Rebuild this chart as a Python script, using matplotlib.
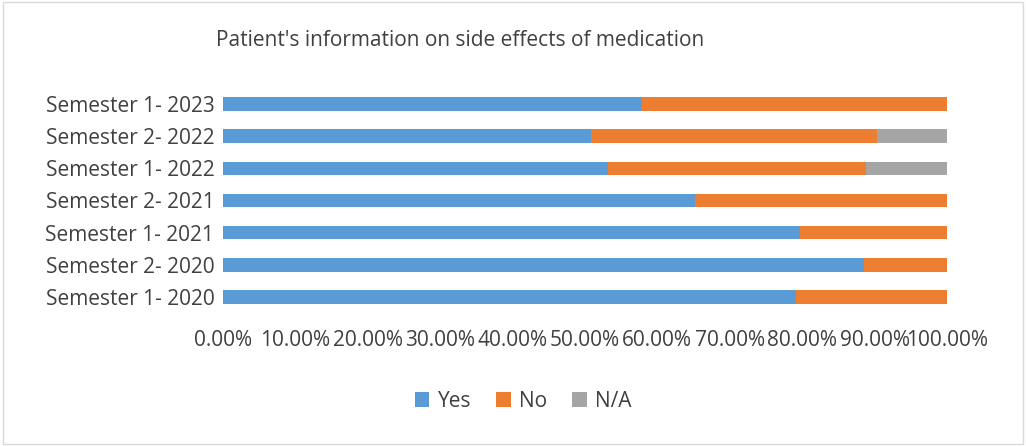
import matplotlib
matplotlib.use("Agg")
import matplotlib.pyplot as plt
import numpy as np

categories = ["Semester 1- 2020", "Semester 2- 2020", "Semester 1- 2021", "Semester 2- 2021",
              "Semester 1- 2022", "Semester 2- 2022", "Semester 1- 2023"]
yes = [79.1, 88.5, 79.7, 65.2, 53.2, 50.8, 57.9]
no = [20.9, 11.5, 20.3, 34.8, 35.6, 39.5, 42.1]
na = [0, 0, 0, 0, 11.2, 9.7, 0]
ticks = [0, 10, 20, 30, 40, 50, 60, 70, 80, 90, 100]
tick_labels = ["%.2f%%" % t for t in ticks]

plt.rcParams['font.family'] = ['Open Sans', 'DejaVu Sans']
fig = plt.figure(figsize=(10.26, 4.46), dpi=100)
ax = fig.add_axes([0.217, 0.298, 0.706, 0.505])
y = np.arange(len(categories))
h = 0.42
ax.barh(y, yes, height=h, color="#5B9BD5", label="Yes")
ax.barh(y, no, left=yes, height=h, color="#ED7D31", label="No")
ax.barh(y, na, left=np.array(yes) + np.array(no), height=h, color="#A5A5A5", label="N/A")
ax.set_xlim(0, 100)
ax.set_ylim(-0.5, len(categories) - 0.5)
ax.set_yticks(y)
ax.set_yticklabels(categories, fontsize=15, color="#404040")
ax.set_xticks(ticks)
ax.set_xticklabels(tick_labels, fontsize=15, color="#404040")
for s in ax.spines.values():
    s.set_visible(False)
ax.tick_params(length=0)
ax.tick_params(axis='x', pad=12)
ax.tick_params(axis='y', pad=6)
fig.text(0.448, 0.91, "Patient's information on side effects of medication", ha="center", va="center",
         fontsize=15, color="#404040")
fig.legend(loc="center", bbox_to_anchor=(0.51, 0.1), ncol=3, frameon=False, fontsize=15,
           handlelength=0.7, handleheight=0.7, columnspacing=1.2, handletextpad=0.4,
           labelcolor="#404040")
fig.patches.append(plt.Rectangle((0.003, 0.005), 0.994, 0.99, transform=fig.transFigure,
                                 fill=False, edgecolor="#D9D9D9", lw=1))
fig.savefig("out.png", dpi=100)
